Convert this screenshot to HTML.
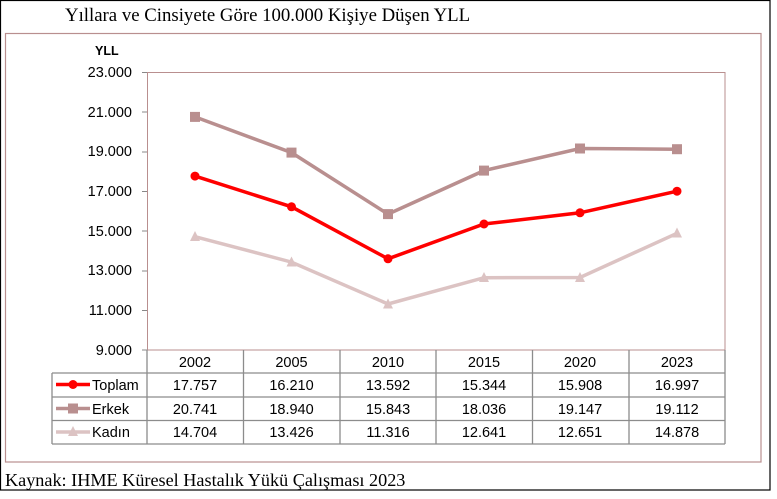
<!DOCTYPE html>
<html><head><meta charset="utf-8"><style>
body{margin:0;width:777px;height:494px;background:#fff;overflow:hidden}
</style></head><body>
<svg width="777" height="494" xmlns="http://www.w3.org/2000/svg" font-family="Liberation Sans, sans-serif">
<rect x="0.5" y="0.5" width="769.5" height="489.5" fill="none" stroke="#000" stroke-width="1.2"/>
<text x="65" y="21" font-family="Liberation Serif, serif" font-size="18.8" fill="#000">Yıllara ve Cinsiyete Göre 100.000 Kişiye Düşen YLL</text>
<rect x="5.5" y="33.5" width="755.5" height="428.5" fill="none" stroke="#b98f8f" stroke-width="1.2"/>
<text x="95" y="55" font-size="12.5" font-weight="bold">YLL</text>
<rect x="147.5" y="72.5" width="577.5" height="277.5" fill="none" stroke="#b98f8f" stroke-width="1"/>
<g font-size="14.5" text-anchor="end" fill="#000">
<text x="132" y="77">23.000</text><text x="132" y="117">21.000</text><text x="132" y="156">19.000</text>
<text x="132" y="196">17.000</text><text x="132" y="236">15.000</text><text x="132" y="275">13.000</text>
<text x="132" y="315">11.000</text><text x="132" y="355">9.000</text>
</g>
<g stroke="#888" stroke-width="1">
<line x1="142" y1="72.5" x2="147" y2="72.5"/><line x1="142" y1="112" x2="147" y2="112"/><line x1="142" y1="152" x2="147" y2="152"/><line x1="142" y1="191.5" x2="147" y2="191.5"/><line x1="142" y1="231" x2="147" y2="231"/><line x1="142" y1="271" x2="147" y2="271"/><line x1="142" y1="310.5" x2="147" y2="310.5"/><line x1="142" y1="350" x2="147" y2="350"/>
</g>
<polyline points="195,236.7 291.5,262.1 388,304 484,277.7 580,277.5 677,233.3" fill="none" stroke="#dcc3c3" stroke-width="3.5"/>
<g fill="#dcc3c3"><polygon points="195,231 200,241 190,241"/><polygon points="291.5,256.5 296.5,266.5 286.5,266.5"/><polygon points="388,298.5 393,308.5 383,308.5"/><polygon points="484,272 489,282 479,282"/><polygon points="580,272 585,282 575,282"/><polygon points="677,227.5 682,237.5 672,237.5"/></g>
<polyline points="195,116.9 291.5,152.6 388,214.1 484,170.6 580,148.5 677,149.2" fill="none" stroke="#b98f8f" stroke-width="3.5"/>
<g fill="#b98f8f"><rect x="190" y="111.9" width="10" height="10"/><rect x="286.5" y="147.6" width="10" height="10"/><rect x="383" y="209.1" width="10" height="10"/><rect x="479" y="165.6" width="10" height="10"/><rect x="575" y="143.5" width="10" height="10"/><rect x="672" y="144.2" width="10" height="10"/></g>
<polyline points="195,176.1 291.5,206.8 388,258.8 484,224 580,212.8 677,191.2" fill="none" stroke="#ff0000" stroke-width="3.5"/>
<g fill="#ff0000"><circle cx="195" cy="176.1" r="4.5"/><circle cx="291.5" cy="206.8" r="4.5"/><circle cx="388" cy="258.8" r="4.5"/><circle cx="484" cy="224" r="4.5"/><circle cx="580" cy="212.8" r="4.5"/><circle cx="677" cy="191.2" r="4.5"/></g>
<g stroke="#8c8c8c" stroke-width="1.3" fill="none">
<line x1="147" y1="350" x2="147" y2="444"/><line x1="243.5" y1="350" x2="243.5" y2="444"/><line x1="340" y1="350" x2="340" y2="444"/><line x1="436" y1="350" x2="436" y2="444"/><line x1="532.5" y1="350" x2="532.5" y2="444"/><line x1="629" y1="350" x2="629" y2="444"/><line x1="725" y1="350" x2="725" y2="444"/>
<line x1="52" y1="373" x2="725" y2="373"/><line x1="52" y1="397" x2="725" y2="397"/><line x1="52" y1="420.5" x2="725" y2="420.5"/><line x1="52" y1="444" x2="725" y2="444"/>
<line x1="52" y1="373" x2="52" y2="444"/>
</g>
<g font-size="14.5" text-anchor="middle" fill="#000">
<text x="195" y="367">2002</text><text x="291.5" y="367">2005</text><text x="388" y="367">2010</text><text x="484" y="367">2015</text><text x="580" y="367">2020</text><text x="677" y="367">2023</text>
<text x="195" y="390">17.757</text><text x="291.5" y="390">16.210</text><text x="388" y="390">13.592</text><text x="484" y="390">15.344</text><text x="580" y="390">15.908</text><text x="677" y="390">16.997</text>
<text x="195" y="414">20.741</text><text x="291.5" y="414">18.940</text><text x="388" y="414">15.843</text><text x="484" y="414">18.036</text><text x="580" y="414">19.147</text><text x="677" y="414">19.112</text>
<text x="195" y="437">14.704</text><text x="291.5" y="437">13.426</text><text x="388" y="437">11.316</text><text x="484" y="437">12.641</text><text x="580" y="437">12.651</text><text x="677" y="437">14.878</text>
</g>
<line x1="56" y1="384.5" x2="90" y2="384.5" stroke="#ff0000" stroke-width="3.5"/><circle cx="73" cy="384.5" r="4.5" fill="#ff0000"/>
<line x1="56" y1="408.5" x2="90" y2="408.5" stroke="#b98f8f" stroke-width="3.5"/><rect x="68" y="403.5" width="10" height="10" fill="#b98f8f"/>
<line x1="56" y1="432" x2="90" y2="432" stroke="#dcc3c3" stroke-width="3.5"/><polygon points="73,426 78,436 68,436" fill="#dcc3c3"/>
<g font-size="14.5" fill="#000"><text x="92" y="390">Toplam</text><text x="92" y="414">Erkek</text><text x="92" y="437">Kadın</text></g>
<text x="5" y="486" font-family="Liberation Serif, serif" font-size="18.2" fill="#000">Kaynak: IHME Küresel Hastalık Yükü Çalışması 2023</text>
</svg>
</body></html>
